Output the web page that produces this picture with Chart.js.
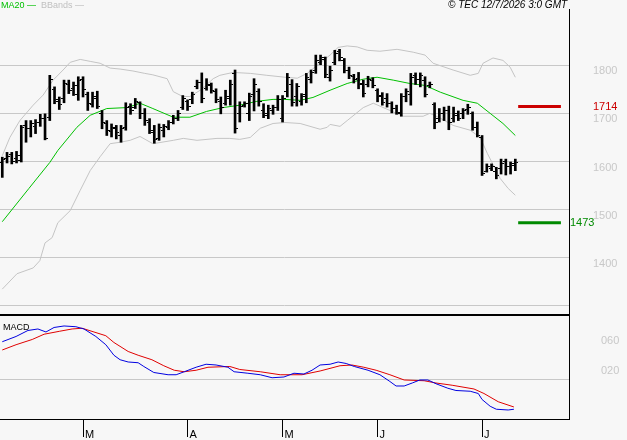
<!DOCTYPE html>
<html>
<head>
<meta charset="utf-8">
<script src="https://cdn.jsdelivr.net/npm/chart.js@4.4.0/dist/chart.umd.min.js"></script>
<style>
  body { margin: 0; background: #f7f7f7; width: 627px; height: 440px; overflow: hidden; position: relative; font-family: "Liberation Sans", Arial, sans-serif; }
  canvas { position: absolute; left: 0; }
  #price { top: 0; }
  #macd { top: 316px; }
  .lbl { position: absolute; white-space: nowrap; font-size: 9px; line-height: 10px; }
</style>
</head>
<body>
<canvas id="price" width="627" height="316"></canvas>
<canvas id="macd" width="627" height="124"></canvas>
<div class="lbl" style="left:1px;top:0;color:#00c000">MA20 —</div>
<div class="lbl" style="left:41px;top:0;color:#c0c0c0">BBands —</div>
<div class="lbl" style="left:448px;top:0;font-size:10px;font-style:italic;color:#000">© TEC 12/7/2026 3:0 GMT</div>
<div class="lbl" style="left:3px;top:322px;color:#000">MACD</div>
<script>
// daily bars, index 0 = first session shown (early Feb)
const opens = [1598,1606,1614,1606,1603,1675,1668,1672,1680,1690,
  1692,1750,1725,1730,1760,1752,1740,1770,1740,1718,
  1730,1700,1678,1662,1668,1655,1670,1715,1712,1722,
  1700,1682,1660,1648,1665,1670,1680,1690,1712,1725,
  1728,1755,1765,1752,1758,1745,1725,1720,1730,1782,
  1700,1716,1700,1740,1745,1705,1700,1705,1712,1690,
  1745,1760,1735,1725,1740,1770,1790,1805,1812,1775,
  1805,1828,1810,1790,1776,1772,1762,1760,1768,1748,
  1738,1730,1720,1710,1700,1735,1740,1778,1770,1768,
  1758,1718,1690,1700,1705,1690,1695,1700,1708,1700,
  1670,1650,1580,1585,1580,1585,1600,1590,1592];
const highs = [1609,1619,1619,1621,1675,1685,1685,1687,1698,1699,
  1779,1755,1734,1769,1769,1765,1776,1776,1744,1744,
  1746,1706,1685,1678,1675,1675,1722,1720,1731,1724,
  1710,1689,1675,1678,1677,1685,1696,1706,1737,1728,
  1744,1769,1784,1772,1763,1751,1734,1748,1769,1790,
  1724,1724,1742,1772,1751,1720,1717,1717,1737,1737,
  1783,1770,1762,1741,1783,1790,1821,1821,1817,1798,
  1831,1833,1814,1796,1781,1785,1769,1777,1774,1751,
  1743,1741,1724,1717,1741,1751,1783,1784,1784,1776,
  1765,1722,1710,1713,1715,1713,1705,1710,1719,1703,
  1682,1654,1595,1595,1588,1605,1605,1599,1605];
const lows = [1567,1597,1595,1597,1599,1640,1651,1658,1673,1645,
  1685,1720,1708,1722,1741,1737,1727,1734,1706,1713,
  1710,1668,1654,1651,1647,1640,1665,1698,1710,1689,
  1675,1658,1638,1644,1651,1666,1678,1685,1708,1706,
  1720,1751,1722,1748,1742,1722,1699,1717,1717,1659,
  1682,1713,1685,1705,1715,1691,1689,1698,1706,1682,
  1734,1715,1715,1717,1722,1763,1783,1801,1774,1767,
  1801,1809,1784,1772,1763,1751,1734,1755,1753,1724,
  1717,1713,1701,1698,1694,1724,1717,1760,1755,1734,
  1753,1668,1682,1685,1666,1682,1685,1689,1698,1665,
  1651,1571,1578,1581,1564,1574,1572,1574,1581];
const closes = [1605,1610,1600,1612,1670,1668,1678,1680,1690,1648,
  1770,1728,1718,1762,1748,1758,1768,1750,1720,1735,
  1715,1680,1665,1670,1660,1668,1712,1705,1725,1700,
  1685,1665,1645,1670,1672,1680,1690,1700,1730,1715,
  1740,1765,1730,1760,1748,1728,1712,1735,1760,1668,
  1715,1720,1735,1760,1725,1695,1710,1712,1728,1730,
  1775,1722,1755,1735,1775,1785,1810,1815,1780,1790,
  1825,1815,1790,1778,1770,1760,1742,1770,1758,1735,
  1722,1720,1710,1702,1735,1745,1775,1770,1778,1740,
  1760,1680,1700,1705,1680,1700,1690,1705,1712,1670,
  1655,1575,1590,1590,1570,1595,1590,1595,1598];

// [bar index, value]
const ma20 = [[0,1475],[5.6,1544],[10,1598],[11.7,1623],[15.7,1671],[18.5,1696],[22,1710],[26.3,1712],
  [29,1721],[31.7,1710],[36,1692],[39.5,1692],[43,1704],[46.5,1712],[50,1717],[53.6,1725],[57,1729],
  [59.5,1729],[62.7,1727],[65.4,1733],[69,1748],[72.6,1762],[76,1771],[78.9,1775],[82.3,1769],
  [85.8,1762],[89,1758],[92.2,1744],[97,1727],[100,1721],[102.7,1700],[105.4,1679],[108,1654]];
const bbUpper = [[0,1612],[1.6,1650],[3.7,1685],[6.5,1717],[8.6,1738],[10.7,1769],[12.8,1790],[14.3,1806],
  [16.4,1812],[18.5,1808],[20.6,1804],[22.7,1794],[24.8,1792],[27.5,1788],[30,1783],[31.7,1780],
  [34.7,1772],[36,1745],[38,1735],[39.5,1735],[42,1750],[44.4,1772],[45.8,1779],[48.6,1785],
  [52.2,1783],[55.7,1779],[59.5,1775],[62.1,1773],[64.2,1783],[66.3,1800],[69,1821],[70.7,1837],
  [72.6,1840],[74.7,1838],[76.8,1831],[79.5,1829],[83.1,1833],[86.5,1827],[89,1821],[90.7,1804],
  [94.9,1790],[98.5,1779],[100.2,1783],[101.2,1804],[103.3,1815],[105.4,1810],[106.9,1796],[108,1775]];
const bbLower = [[0,1335],[3.1,1367],[6.5,1379],[7.9,1394],[9,1431],[10.5,1442],[11.7,1473],[14.3,1498],
  [16.4,1540],[18.5,1581],[20.6,1610],[22.7,1637],[24.8,1640],[26.9,1644],[29,1652],[31.7,1637],
  [36,1644],[38.1,1648],[41,1644],[45.2,1648],[47.9,1648],[50,1646],[52.2,1650],[54.3,1669],
  [57,1679],[59.5,1681],[62.7,1679],[66.9,1667],[68.4,1671],[69,1677],[71.1,1673],[72.6,1685],
  [76,1712],[78.1,1721],[81.6,1706],[84.4,1694],[88.6,1694],[90,1700],[92.2,1690],[94.9,1675],
  [98.5,1665],[100.6,1650],[102.1,1617],[104.8,1565],[106.5,1544],[108,1530]];

const macdLine = [[0,51],[2.9,58],[5.4,66],[7.5,68],[9.2,64],[10.9,70],[13,72],[15.5,71],[17.2,68],
  [19.7,58],[21.8,47],[23.5,33],[24.8,27],[26.5,24],[28.6,23],[29.8,18],[31.9,10],[34.9,7],[36.6,7],
  [38.3,11],[40.8,17],[42.9,21],[45,20],[47.5,17],[48.8,11],[51.7,9],[54.3,7],[56.8,3],[59.3,4],
  [61.4,9],[63.5,8],[65.2,13],[66.9,20],[69,21],[70.7,24],[72.4,22],[74.1,18],[77,13],[79.5,7],
  [81.6,-2],[82.9,-8],[84.6,-8],[86.3,-4],[87.9,0],[89.6,0],[91.3,-5],[93.8,-11],[95.5,-14],
  [98.5,-15],[100.2,-18],[101,-26],[102.7,-35],[104,-39],[106.5,-40],[107.7,-39]];
const signalLine = [[0,40],[2.9,47],[6.3,54],[8.8,61],[12.1,65],[14.7,68],[16.8,69],[19.3,64],
  [21.8,59],[23.5,50],[26.5,38],[28.6,33],[31.5,27],[34,19],[36.2,13],[38.3,11],[40.8,13],
  [43.3,17],[47.9,18],[50,14],[54.3,11],[58.5,7],[63.1,7],[66.9,12],[71.1,19],[73.6,20],
  [76.1,17],[78.7,13],[81.6,7],[84.6,0],[88.8,-1],[91.3,-4],[94.7,-7],[99.3,-12],[101.4,-18],
  [104.4,-29],[107.7,-36]];

const refLevels = [1714, 1473];
const refColors = ['#cc0000', '#008a00'];
const refSpan = [108.6, 117.6];

const monthTicks = [17, 39, 59, 79, 101];
const monthLabels = ['M', 'A', 'M', 'J', 'J'];

const priceTicks = [1300, 1400, 1500, 1600, 1700, 1800];
const macdTicks = [0, 20, 60];

const xMin = -0.48, xMax = 119.3;

function tickImg(left) {
  const c = document.createElement('canvas');
  c.width = 6; c.height = 1;
  const g = c.getContext('2d');
  g.fillStyle = '#000';
  g.fillRect(left ? 0 : 4, 0, 2, 1);
  return c;
}
const openImg = tickImg(true);
const closeImg = tickImg(false);

const pts = (arr) => arr.map(p => ({ x: p[0], y: p[1] }));

// right-hand axis: fixed width, no extra vertical padding
function fitRight(s) {
  s.width = 58;
  s.paddingTop = 0;
  s.paddingBottom = 0;
}

const frame = {
  id: 'frame',
  afterDraw(chart, args, opts) {
    const { ctx, chartArea: a } = chart;
    ctx.save();
    ctx.strokeStyle = '#000';
    ctx.lineWidth = 1;
    ctx.beginPath();
    ctx.moveTo(a.right + 0.5, a.top);
    ctx.lineTo(a.right + 0.5, a.bottom);
    ctx.stroke();
    ctx.lineWidth = opts.width;
    ctx.beginPath();
    ctx.moveTo(a.left, opts.y(a));
    ctx.lineTo(a.right + 1, opts.y(a));
    ctx.stroke();
    ctx.restore();
  }
};

const refLabels = {
  id: 'refLabels',
  afterDraw(chart) {
    const { ctx, chartArea: a } = chart;
    const y = chart.scales.y;
    ctx.save();
    ctx.font = '11px "Liberation Sans", Arial, sans-serif';
    ctx.textBaseline = 'middle';
    refLevels.forEach((v, i) => {
      ctx.fillStyle = refColors[i];
      ctx.fillText(String(v), i === 0 ? a.right + 24 : a.right + 1, y.getPixelForValue(v));
    });
    ctx.restore();
  }
};

const axisFont = { family: '"Liberation Sans", Arial, sans-serif', size: 11 };

new Chart(document.getElementById('price'), {
  type: 'bar',
  data: {
    datasets: [
      {
        type: 'line', data: opens.map((v, i) => ({ x: i, y: v })),
        showLine: false, pointStyle: openImg, pointRadius: 3
      },
      {
        type: 'line', data: closes.map((v, i) => ({ x: i, y: v })),
        showLine: false, pointStyle: closeImg, pointRadius: 3
      },
      {
        data: highs.map((h, i) => ({ x: i, y: [lows[i], h] })),
        backgroundColor: '#000', barThickness: 2, borderWidth: 0
      },
      ...refLevels.map((v, i) => ({
        type: 'line', data: refSpan.map(x => ({ x, y: v })),
        borderColor: refColors[i], borderWidth: 3, pointRadius: 0
      })),
      {
        type: 'line', data: pts(ma20), borderColor: '#00c000',
        borderWidth: 1, pointRadius: 0, tension: 0
      },
      {
        type: 'line', data: pts(bbUpper), borderColor: '#c4c4c4',
        borderWidth: 1, pointRadius: 0, tension: 0
      },
      {
        type: 'line', data: pts(bbLower), borderColor: '#c4c4c4',
        borderWidth: 1, pointRadius: 0, tension: 0
      }
    ]
  },
  options: {
    responsive: false,
    animation: false,
    events: [],
    layout: { autoPadding: false, padding: { top: 9, left: 0, right: 0, bottom: 0 } },
    plugins: {
      legend: { display: false },
      tooltip: { enabled: false },
      frame: { width: 2, y: a => a.bottom - 1 }
    },
    scales: {
      x: {
        type: 'linear', min: xMin, max: xMax, offset: false, display: false
      },
      y: {
        position: 'right', min: 1279.2, max: 1916.7,
        afterBuildTicks: s => { s.ticks = priceTicks.map(v => ({ value: v })); },
        afterFit: fitRight,
        border: { display: false },
        grid: { color: '#c8c8c8', drawTicks: false },
        ticks: {
          color: '#c8c8c8', font: axisFont, padding: 24, labelOffset: 6,
          callback: v => (v === 1300 ? '' : String(v))
        }
      }
    }
  },
  plugins: [frame, refLabels]
});

new Chart(document.getElementById('macd'), {
  type: 'line',
  data: {
    datasets: [
      { data: pts(macdLine), borderColor: '#0000e0', borderWidth: 1, pointRadius: 0, tension: 0 },
      { data: pts(signalLine), borderColor: '#e00000', borderWidth: 1, pointRadius: 0, tension: 0 }
    ]
  },
  options: {
    responsive: false,
    animation: false,
    events: [],
    layout: { autoPadding: false, padding: 0 },
    plugins: {
      legend: { display: false },
      tooltip: { enabled: false },
      frame: { width: 1, y: a => a.bottom + 0.5 }
    },
    scales: {
      x: {
        type: 'linear', min: xMin, max: xMax, offset: false,
        afterBuildTicks: s => { s.ticks = monthTicks.map(v => ({ value: v })); },
        afterFit: s => { s.height = 21; s.paddingLeft = 0; s.paddingRight = 0; },
        border: { display: false },
        grid: { drawOnChartArea: false, drawTicks: true, tickLength: 18, color: '#000', tickColor: '#000' },
        ticks: {
          color: '#000', font: axisFont, align: 'start', labelOffset: 2, padding: -9,
          maxRotation: 0, autoSkip: false,
          callback: (v) => monthLabels[monthTicks.indexOf(v)]
        }
      },
      y: {
        position: 'right', min: -52, max: 85.3,
        afterBuildTicks: s => { s.ticks = macdTicks.map(v => ({ value: v })); },
        afterFit: fitRight,
        border: { display: false },
        grid: {
          drawTicks: false,
          color: c => (c.tick && c.tick.value === 0 ? '#c8c8c8' : 'rgba(0,0,0,0)')
        },
        ticks: {
          color: '#c8c8c8', font: axisFont, padding: 32, labelOffset: 6,
          callback: v => (v === 0 ? '' : '0' + v)
        }
      }
    }
  },
  plugins: [frame]
});
</script>
</body>
</html>
